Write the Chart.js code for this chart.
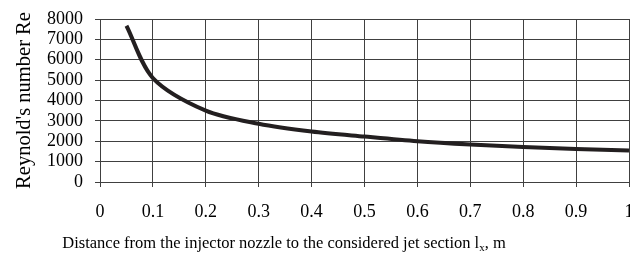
<!DOCTYPE html>
<html>
<head>
<meta charset="utf-8">
<script src="https://cdn.jsdelivr.net/npm/chart.js@4"></script>
<style>
  html, body { margin: 0; padding: 0; background: #fff; }
  #wrap { width: 630px; height: 254px; }
</style>
</head>
<body>
<div id="wrap"><canvas id="reChart" width="630" height="254"></canvas></div>
<script>
// distance from nozzle, m
var distances = [0.05, 0.1, 0.2, 0.3, 0.4, 0.5, 0.6, 0.7, 0.8, 0.9, 1.0];
// Reynold's number
var reValues = [7670, 5100, 3500, 2860, 2480, 2230, 2000, 1840, 1720, 1620, 1540];
var xTicks = [0, 0.1, 0.2, 0.3, 0.4, 0.5, 0.6, 0.7, 0.8, 0.9, 1];
var yTicks = [0, 1000, 2000, 3000, 4000, 5000, 6000, 7000, 8000];

var serif = "'Liberation Serif', 'Times New Roman', serif";
var gridCol = "#404040";

// x title with a real subscript
var xTitlePlugin = {
  id: "xTitle",
  afterDraw: function (chart) {
    var ctx = chart.ctx;
    var main = "Distance from the injector nozzle to the considered jet section l";
    var sub = "x";
    var tail = ", m";
    ctx.save();
    ctx.fillStyle = "#000";
    ctx.textBaseline = "alphabetic";
    ctx.font = "16.5px " + serif;
    var w1 = ctx.measureText(main).width;
    var w3 = ctx.measureText(tail).width;
    ctx.font = "11px " + serif;
    var w2 = ctx.measureText(sub).width;
    var total = w1 + w2 + w3;
    var x = 284 - total / 2;
    var y = 248;
    ctx.font = "16.5px " + serif;
    ctx.fillText(main, x, y);
    ctx.font = "11px " + serif;
    ctx.fillText(sub, x + w1, y + 3);
    ctx.font = "16.5px " + serif;
    ctx.fillText(tail, x + w1 + w2, y);
    ctx.restore();
  }
};

var points = distances.map(function (d, i) { return { x: d, y: reValues[i] }; });

new Chart("reChart", {
  type: "line",
  data: {
    datasets: [{
      data: points,
      borderColor: "#231f20",
      borderWidth: 4,
      pointRadius: 0,
      tension: 0.3,
      fill: false
    }]
  },
  options: {
    responsive: false,
    animation: false,
    layout: { padding: { top: 19, right: 1, left: 0, bottom: 0 } },
    plugins: { legend: { display: false }, tooltip: { enabled: false } },
    scales: {
      x: {
        type: "linear",
        min: 0,
        max: 1,
        afterBuildTicks: function (axis) {
          axis.ticks = xTicks.map(function (v) { return { value: v }; });
        },
        afterFit: function (axis) {
          axis.height = 72;
          axis.paddingLeft = 0;
          axis.paddingRight = 0;
        },
        grid: { color: gridCol, lineWidth: 1, tickLength: 5, drawTicks: true },
        border: { color: gridCol, width: 1 },
        ticks: {
          color: "#000",
          padding: 14,
          maxRotation: 0,
          autoSkip: false,
          font: { family: serif, size: 18 },
          callback: function (v) { return String(Math.round(v * 10) / 10); }
        }
      },
      y: {
        min: 0,
        max: 8000,
        afterBuildTicks: function (axis) {
          axis.ticks = yTicks.map(function (v) { return { value: v }; });
        },
        afterFit: function (axis) {
          axis.width = 100;
          axis.paddingTop = 0;
          axis.paddingBottom = 0;
        },
        grid: { color: gridCol, lineWidth: 1, tickLength: 5 },
        border: { color: gridCol, width: 1 },
        ticks: {
          color: "#000",
          padding: 12,
          autoSkip: false,
          font: { family: serif, size: 18 },
          callback: function (v) { return String(v); }
        },
        title: {
          display: true,
          text: "Reynold's number Re",
          color: "#000",
          font: { family: serif, size: 20.5 },
          padding: { top: 12, bottom: 0 }
        }
      }
    }
  },
  plugins: [xTitlePlugin]
});
</script>
</body>
</html>
